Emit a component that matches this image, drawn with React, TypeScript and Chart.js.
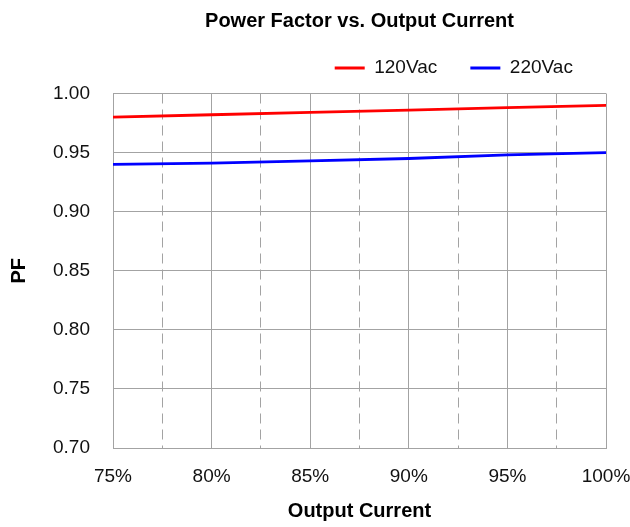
import React, { useEffect, useRef } from "react";
import { Chart, registerables } from "chart.js";

Chart.register(...registerables);

const TITLE = "Power Factor vs. Output Current";
const X_TITLE = "Output Current";
const Y_TITLE = "PF";
const outputCurrent = [75, 80, 85, 90, 95, 100];
const pf120 = [0.98, 0.982, 0.984, 0.986, 0.988, 0.99];
const pf220 = [0.94, 0.941, 0.943, 0.945, 0.948, 0.95];
const seriesLabels = ["120Vac", "220Vac"];
const seriesColors = ["#ff0000", "#0000ff"];

const FONT = "'Liberation Sans', Arial, Helvetica, sans-serif";

export default function App() {
  const ref = useRef<HTMLCanvasElement | null>(null);

  useEffect(() => {
    if (!ref.current) return;
    const series = [pf120, pf220];
    const chart = new Chart(ref.current, {
      type: "line",
      data: {
        datasets: series.map((s, k) => ({
          label: seriesLabels[k],
          data: outputCurrent.map((x, i) => ({ x, y: s[i] })),
          borderColor: seriesColors[k],
          backgroundColor: seriesColors[k],
          borderWidth: 2.8,
          pointRadius: 0,
          tension: 0,
          fill: false,
        })),
      },
      options: {
        responsive: false,
        animation: false,
        font: { family: FONT },
        layout: { padding: { left: 0, right: 24, top: 0, bottom: 0 } },
        plugins: {
          title: {
            display: true,
            fullSize: false,
            text: TITLE,
            color: "#000",
            font: { family: FONT, size: 20, weight: "bold" },
            padding: { top: 9, bottom: 13.5 },
          },
          subtitle: {
            display: true,
            text: "",
            position: "top",
            weight: 500,
            font: { family: FONT, size: 6, lineHeight: 1 },
            padding: 0,
          },
          legend: {
            display: true,
            position: "top",
            align: "end",
            labels: {
              usePointStyle: true,
              pointStyle: "line",
              pointStyleWidth: 30,
              color: "#111",
              font: { family: FONT, size: 19 },
              padding: 12,
              generateLabels: (c: any) =>
                Chart.defaults.plugins.legend.labels
                  .generateLabels(c)
                  .map((it: any) => ({ ...it, text: it.text + "    " })),
            },
          },
          tooltip: { enabled: false },
        },
        scales: {
          x: {
            type: "linear",
            min: 75,
            max: 100,
            afterFit: (s: any) => {
              s.height = 79;
              s.paddingLeft = 0;
              s.paddingRight = 0;
            },
            ticks: {
              stepSize: 2.5,
              autoSkip: false,
              maxRotation: 0,
              minRotation: 0,
              padding: 17.6,
              color: "#111",
              font: { family: FONT, size: 19 },
              callback: (v: any) => (Number(v) % 5 === 0 ? v + "%" : ""),
            },
            grid: { color: "#a3a3a3", lineWidth: 1, drawTicks: false },
            border: {
              color: "#a3a3a3",
              dash: (c: any) =>
                c && c.tick && Number(c.tick.value) % 5 !== 0 ? [10, 6] : [],
            },
            title: {
              display: true,
              text: X_TITLE,
              color: "#000",
              font: { family: FONT, size: 20, weight: "bold" },
              padding: { top: 10.6, bottom: 4 },
            },
          },
          y: {
            type: "linear",
            min: 0.7,
            max: 1.0,
            afterFit: (s: any) => {
              s.width = 113;
            },
            ticks: {
              stepSize: 0.05,
              padding: 23,
              color: "#111",
              font: { family: FONT, size: 19 },
              callback: (v: any) => Number(v).toFixed(2),
            },
            grid: { color: "#a3a3a3", lineWidth: 1, drawTicks: false },
            border: { color: "#a3a3a3" },
            title: {
              display: true,
              text: Y_TITLE,
              color: "#000",
              font: { family: FONT, size: 20, weight: "bold" },
              padding: { top: 7, bottom: 0 },
            },
          },
        },
      },
    } as any);
    return () => chart.destroy();
  }, []);

  return (
    <div style={{ position: "absolute", left: 0, top: 0, width: 630, height: 527 }}>
      <canvas ref={ref} width={630} height={527} style={{ display: "block" }} />
    </div>
  );
}
